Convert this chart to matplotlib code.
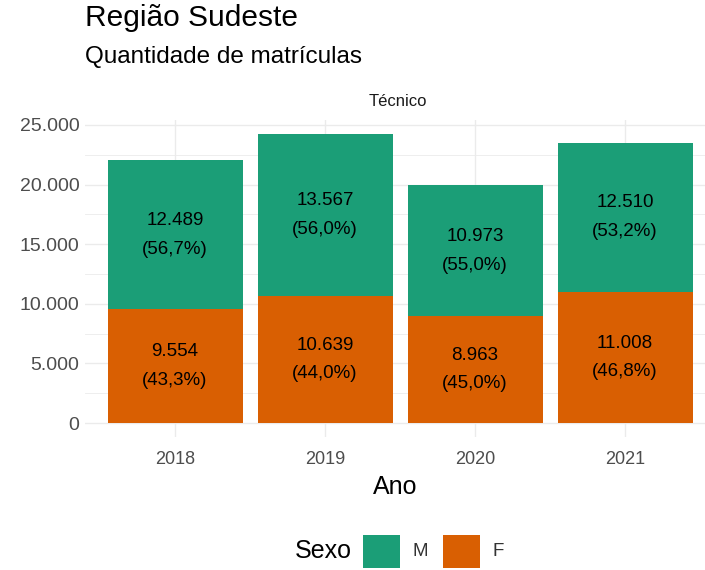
import matplotlib.pyplot as plt
from matplotlib.patches import Rectangle
from matplotlib.ticker import FixedLocator, FuncFormatter

plt.rcParams['font.family'] = ['Liberation Sans', 'DejaVu Sans']

# Data
anos = ['2018', '2019', '2020', '2021']
masc = [12489, 13567, 10973, 12510]
fem = [9554, 10639, 8963, 11008]

cor_m = '#1B9E77'
cor_f = '#D95F02'

def fmt_num(v):
    return f'{v:,.0f}'.replace(',', '.')

def fmt_pct(p):
    return f'({p:.1f}%)'.replace('.', ',')

fig = plt.figure(figsize=(7.05, 5.7), dpi=100)
ax = fig.add_axes([85/705, 1-437/570, 620/705, (437-120)/570])

x = list(range(len(anos)))
ax.bar(x, fem, width=0.9, color=cor_f, zorder=2)
ax.bar(x, masc, width=0.9, bottom=fem, color=cor_m, zorder=2)

for i in x:
    tot = masc[i] + fem[i]
    ax.text(i, fem[i] / 2, fmt_num(fem[i]) + '\n' + fmt_pct(100 * fem[i] / tot),
            ha='center', va='center', fontsize=13.5, color='black',
            linespacing=1.9, zorder=3)
    ax.text(i, fem[i] + masc[i] / 2, fmt_num(masc[i]) + '\n' + fmt_pct(100 * masc[i] / tot),
            ha='center', va='center', fontsize=13.5, color='black',
            linespacing=1.9, zorder=3)

ax.set_xlim(-0.6, 3.533)
ax.set_ylim(-1174, 25419)
ax.set_xticks(x)
ax.set_xticklabels(anos)
ax.yaxis.set_major_locator(FixedLocator([0, 5000, 10000, 15000, 20000, 25000]))
ax.yaxis.set_minor_locator(FixedLocator([2500, 7500, 12500, 17500, 22500]))
ax.yaxis.set_major_formatter(FuncFormatter(lambda v, p: fmt_num(v)))
ax.tick_params(axis='both', which='both', length=0, labelsize=14, labelcolor='#4D4D4D')
ax.tick_params(axis='x', pad=10, labelsize=13)
ax.tick_params(axis='y', pad=4)
ax.grid(which='major', color='#EBEBEB', linewidth=1.0, zorder=0)
ax.grid(which='minor', axis='y', color='#EBEBEB', linewidth=0.6, zorder=0)
for s in ax.spines.values():
    s.set_visible(False)
ax.set_xlabel('Ano', fontsize=18, color='black', labelpad=5)

# Facet strip
fig.text(398/705, 1-101/570, 'Técnico', ha='center', va='center', fontsize=12, color='#1A1A1A')

# Titles
fig.text(85/705, 1-18/570, 'Região Sudeste', ha='left', va='center', fontsize=21.5)
fig.text(85/705, 1-57/570, 'Quantidade de matrículas', ha='left', va='center', fontsize=17.5)

# Legend
yl = 1-551/570
fig.text(295/705, yl, 'Sexo', ha='left', va='center', fontsize=18)
fig.patches.append(Rectangle((363/705, 1-568/570), 37/705, 33/570, transform=fig.transFigure,
                             facecolor=cor_m, edgecolor='none'))
fig.text(413/705, yl, 'M', ha='left', va='center', fontsize=13.5, color='#333333')
fig.patches.append(Rectangle((443/705, 1-568/570), 37/705, 33/570, transform=fig.transFigure,
                             facecolor=cor_f, edgecolor='none'))
fig.text(493/705, yl, 'F', ha='left', va='center', fontsize=13.5, color='#333333')

fig.savefig('out.png', dpi=100)
